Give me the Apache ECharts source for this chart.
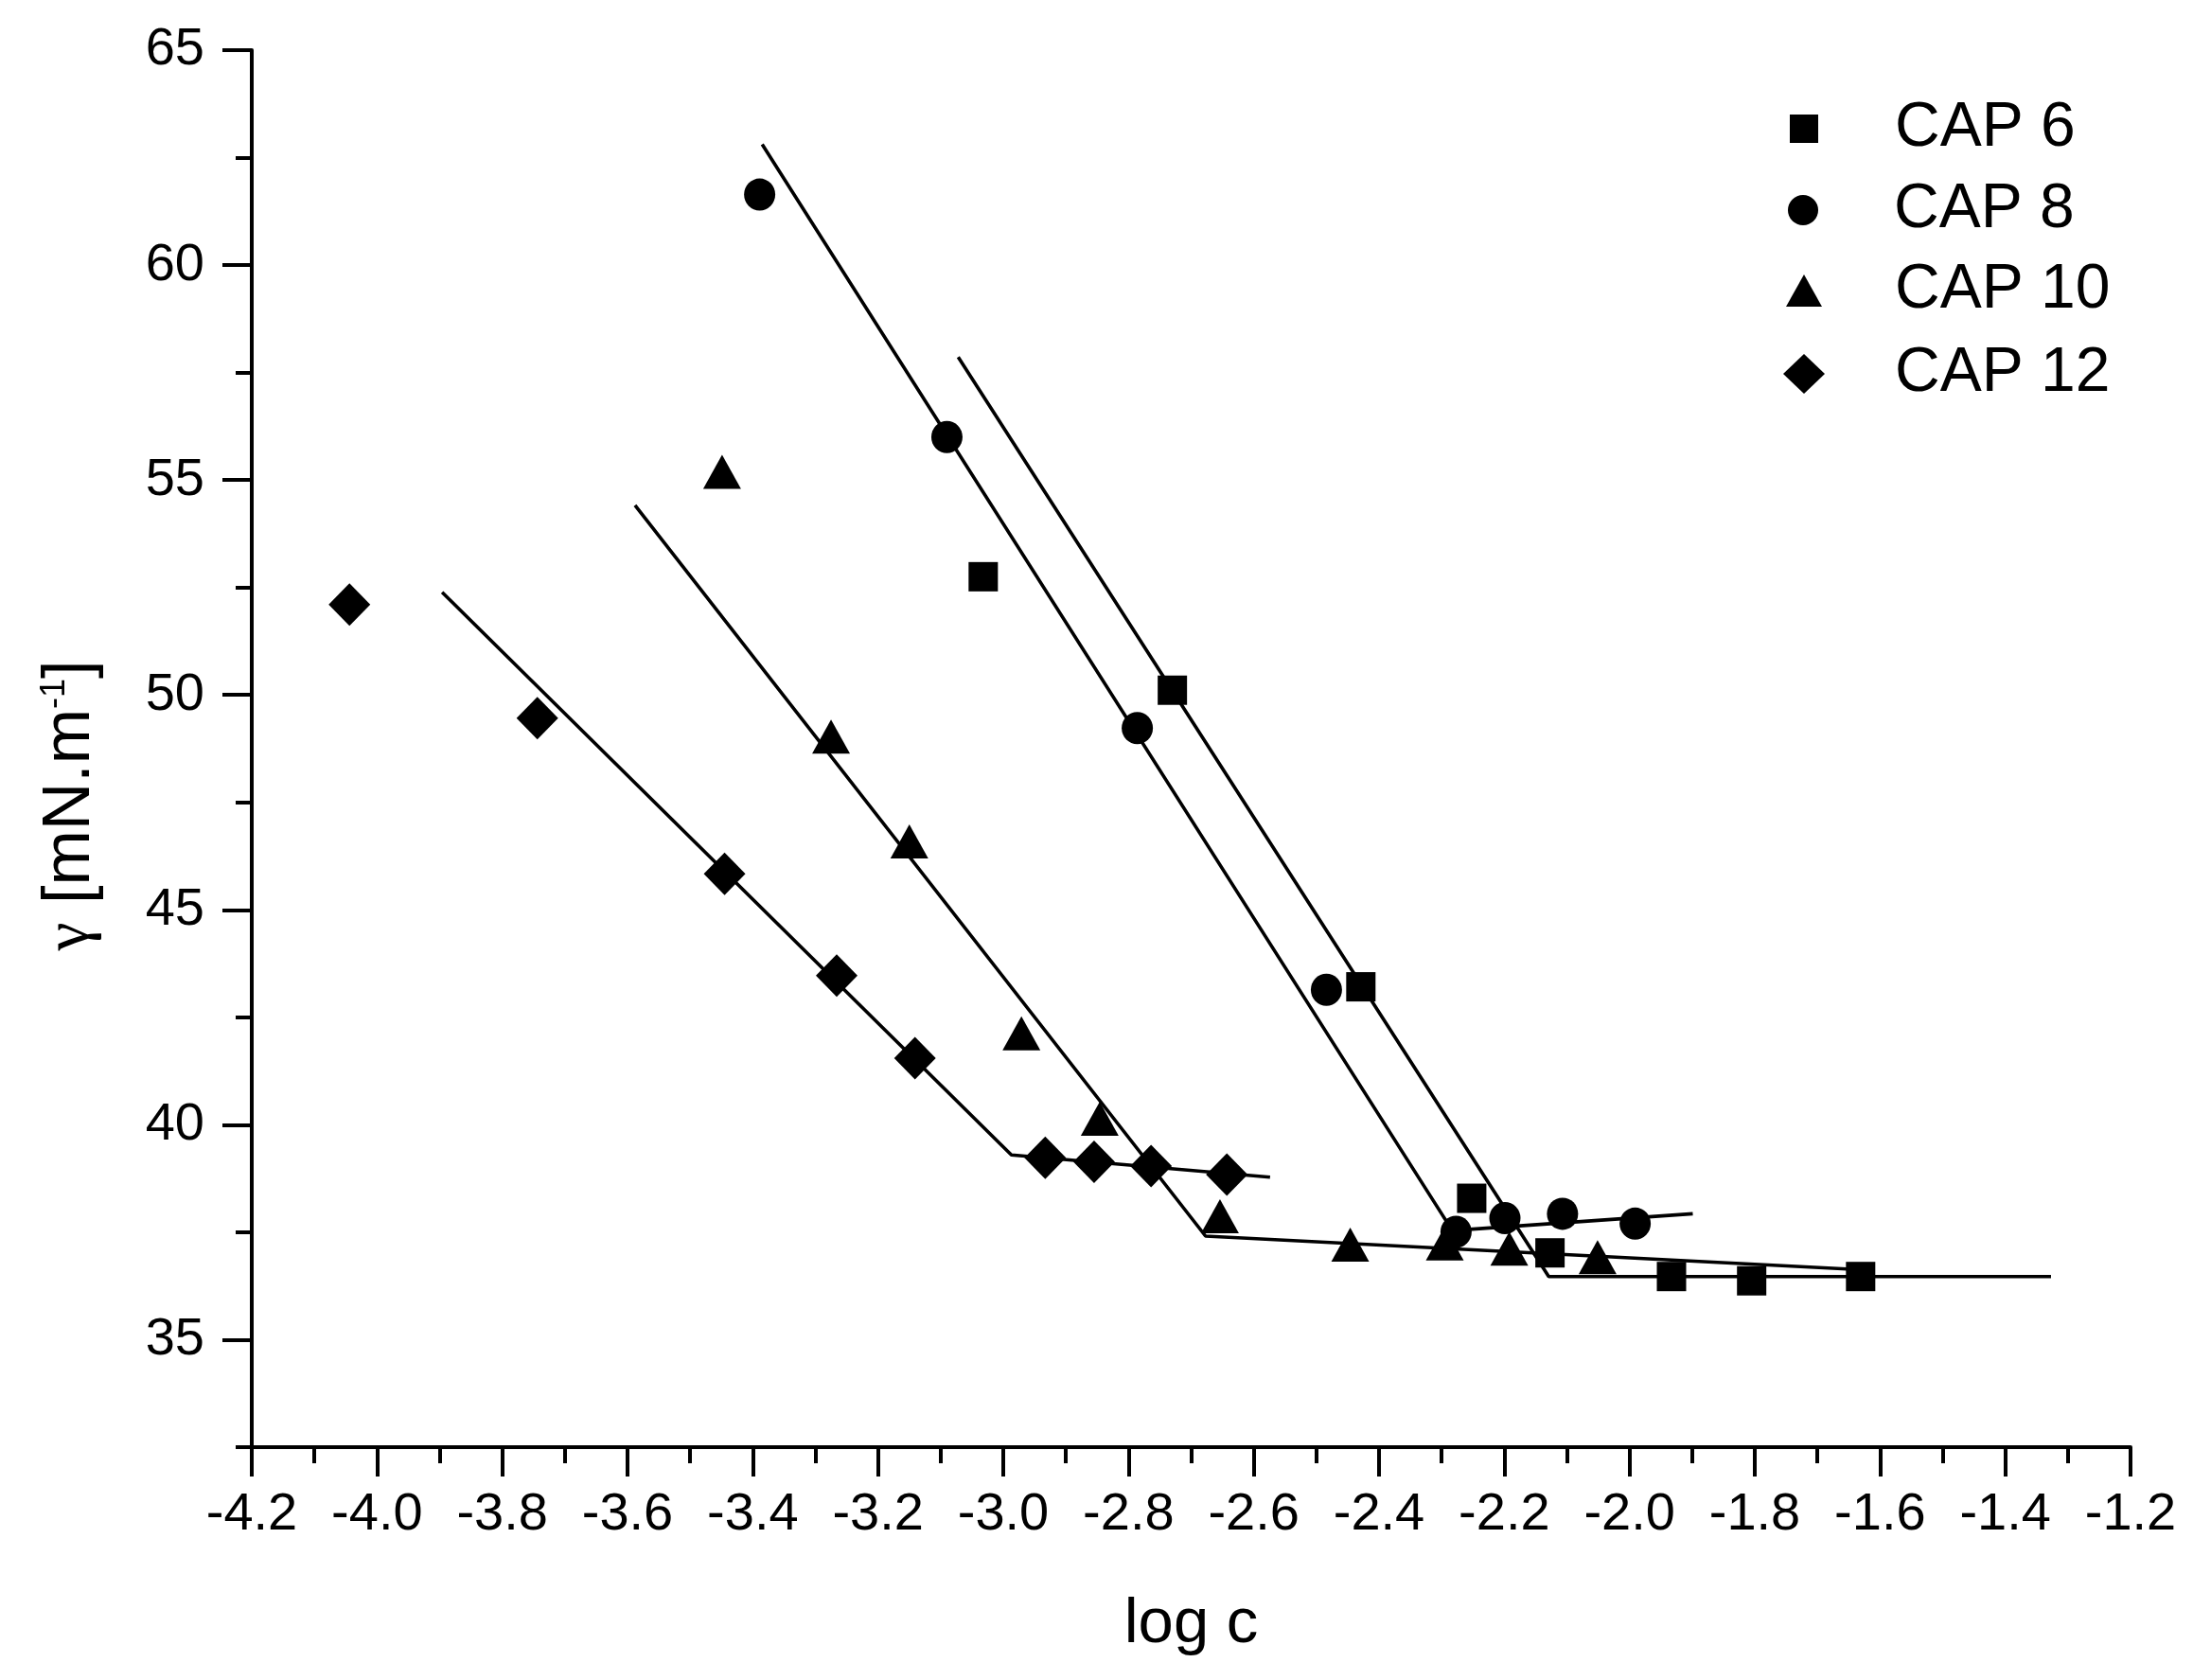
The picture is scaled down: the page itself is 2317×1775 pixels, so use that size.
<!DOCTYPE html>
<html>
<head>
<meta charset="utf-8">
<script src="https://cdn.jsdelivr.net/npm/echarts@6/dist/echarts.min.js"></script>
<style>
html,body{margin:0;padding:0;background:#fff;}
#chart{width:2317px;height:1775px;}
</style>
</head>
<body>
<div id="chart"></div>
<script>
// ---- data ----
const seriesNames = ['CAP 6', 'CAP 8', 'CAP 10', 'CAP 12'];

const cap6X = [-3.032, -2.730, -2.429, -2.252, -2.127, -1.933, -1.805, -1.631];
const cap6Y = [52.75, 50.11, 43.21, 38.29, 37.02, 36.47, 36.37, 36.47];
const cap8X = [-3.389, -3.090, -2.786, -2.484, -2.277, -2.199, -2.107, -1.991];
const cap8Y = [61.64, 56.00, 49.23, 43.14, 37.51, 37.83, 37.93, 37.70];
const cap10X = [-3.449, -3.275, -3.150, -2.971, -2.846, -2.654, -2.446, -2.295, -2.192, -2.051];
const cap10Y = [55.19, 49.03, 46.59, 42.13, 40.14, 37.87, 37.21, 37.24, 37.12, 36.92];
const cap12X = [-4.044, -3.744, -3.445, -3.266, -3.141, -2.933, -2.855, -2.764, -2.643];
const cap12Y = [52.10, 49.46, 45.84, 43.47, 41.55, 39.23, 39.14, 39.04, 38.84];

// fitted line segments (start, break point, end)
const fit6X = [-3.072, -2.129, -1.327];
const fit6Y = [57.86, 36.47, 36.47];
const fit8X = [-3.385, -2.283, -1.899];
const fit8Y = [62.81, 37.54, 37.93];
const fit10X = [-3.588, -2.677, -1.631];
const fit10Y = [54.41, 37.41, 36.63];
const fit12X = [-3.896, -2.987, -2.574];
const fit12Y = [52.39, 39.30, 38.78];

const yLabelValues = [35, 40, 45, 50, 55, 60, 65];

// ---- helpers ----
const zip = (xs, ys) => xs.map((x, i) => [x, ys[i]]);
const FONT = 'Liberation Sans, Arial, sans-serif';

const pts = [zip(cap6X, cap6Y), zip(cap8X, cap8Y), zip(cap10X, cap10Y), zip(cap12X, cap12Y)];
const fits = [zip(fit6X, fit6Y), zip(fit8X, fit8Y), zip(fit10X, fit10Y), zip(fit12X, fit12Y)];
const symbols = ['rect', 'circle', 'triangle', 'diamond'];
const symSizes = [31, [33, 34], [40, 36], [44, 45]];
const legendIcon = [[30, 30], [34, 32], [38, 34], [44, 42]];
const legendCenterY = [136, 222, 307, 395];

const series = [];
seriesNames.forEach((n, i) => {
  series.push({
    type: 'line', name: n + ' fit', data: fits[i], showSymbol: false, symbol: 'none',
    lineStyle: { color: '#000', width: 3.6, opacity: 1 }, silent: true, z: 2
  });
});
seriesNames.forEach((n, i) => {
  series.push({
    type: 'scatter', name: n, data: pts[i], symbol: symbols[i], symbolSize: symSizes[i],
    itemStyle: { color: '#000', opacity: 1 }, z: 3
  });
});

const legends = seriesNames.map((n, i) => {
  const w = legendIcon[i][0], h = legendIcon[i][1];
  const left = 1906 - w / 2;
  return {
    data: [n], orient: 'vertical', left: left, top: legendCenterY[i] - 34,
    padding: 0, itemWidth: w, itemHeight: h, selectedMode: false,
    itemStyle: { opacity: 1 },
    textStyle: { fontFamily: FONT, fontSize: 66, color: '#000', lineHeight: 68,
                 padding: [0, 0, 0, 2002 - (left + w + 5)] }
  };
});

const chart = echarts.init(document.getElementById('chart'), null, { renderer: 'canvas' });
chart.setOption({
  backgroundColor: '#fff',
  animation: false,
  legend: legends,
  grid: { left: 266, right: 66, top: 53, bottom: 246, outerBoundsMode: 'none', containLabel: false },
  xAxis: {
    type: 'value', min: -4.2, max: -1.2, interval: 0.2,
    name: 'log c', nameLocation: 'middle', nameGap: 154,
    nameTextStyle: { fontFamily: FONT, fontSize: 67, color: '#000' },
    axisLine: { show: true, onZero: false, lineStyle: { color: '#000', width: 4 } },
    axisTick: { show: true, inside: false, length: 31, lineStyle: { color: '#000', width: 4 } },
    minorTick: { show: true, splitNumber: 2, length: 17, lineStyle: { color: '#000', width: 4 } },
    axisLabel: { show: true, margin: 44, fontFamily: FONT, fontSize: 56, color: '#000',
                 showMinLabel: true, showMaxLabel: true,
                 formatter: v => v.toFixed(1) },
    splitLine: { show: false }, minorSplitLine: { show: false }
  },
  yAxis: [
    {
      type: 'value', min: 32.5, max: 65, interval: 2.5,
      axisLine: { show: true, onZero: false, lineStyle: { color: '#000', width: 4 } },
      axisTick: { show: true, inside: false, length: 17, lineStyle: { color: '#000', width: 4 } },
      axisLabel: { show: false },
      splitLine: { show: false }
    },
    {
      type: 'value', min: 32.5, max: 65, position: 'left', offset: 0,
      name: '{g|γ} [mN.m{s|-1}]', nameLocation: 'middle', nameGap: 156,
      nameTextStyle: {
        fontFamily: FONT, fontSize: 70, color: '#000',
        padding: [0, 120, 0, 0],
        rich: {
          g: { fontFamily: 'Liberation Serif, DejaVu Serif, serif', fontSize: 68, color: '#000' },
          s: { fontFamily: FONT, fontSize: 36, color: '#000', verticalAlign: 'top' }
        }
      },
      axisLine: { show: false },
      axisTick: { show: true, inside: false, length: 31, customValues: yLabelValues,
                  lineStyle: { color: '#000', width: 4 } },
      axisLabel: { show: true, margin: 50, fontFamily: FONT, fontSize: 56, color: '#000',
                   customValues: yLabelValues },
      splitLine: { show: false }
    }
  ],
  series: series
});
</script>
</body>
</html>
